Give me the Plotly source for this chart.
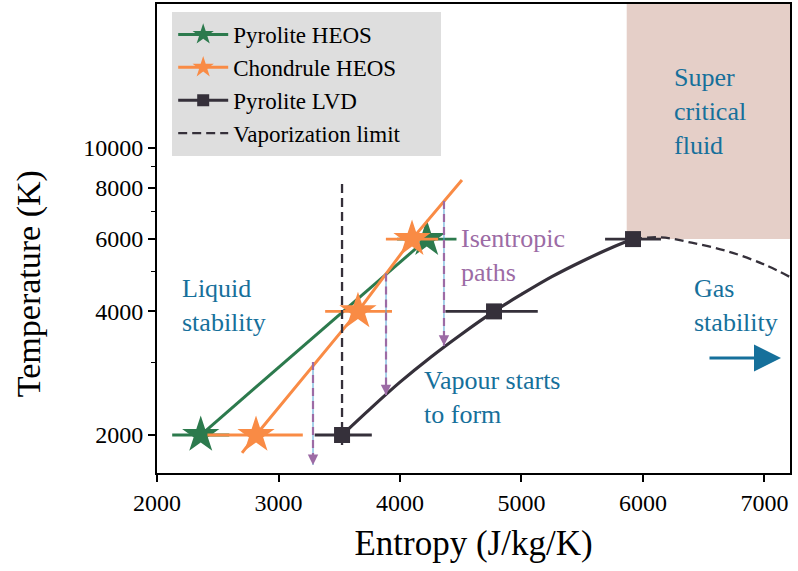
import plotly.graph_objects as go
import math

# ---- data ----
# Pyrolite HEOS
pyr_heos_S = [2360, 4220]
pyr_heos_T = [2000, 6000]
pyr_heos_err = [235, 245]

# Chondrule HEOS
chon_S = [2815, 3654, 4099]
chon_T = [2000, 4000, 6000]
chon_err_minus = [400, 270, 215]
chon_err_plus = [385, 280, 215]
chon_line_S = [2700, 2815, 3654, 4099, 4510]
chon_line_T = [1810, 2000, 4000, 6000, 8360]

# Pyrolite LVD
lvd_S = [3523, 4774, 5918]
lvd_T = [2000, 4000, 6000]
lvd_err_minus = [225, 400, 230]
lvd_err_plus = [245, 360, 230]
lvd_curve_S = [3523, 3750, 4000, 4250, 4500, 4774, 5000, 5250, 5500, 5750, 5918]
lvd_curve_T = [2000, 2310, 2690, 3090, 3510, 4000, 4400, 4860, 5300, 5730, 6000]
lvd_dash_S = [5918, 6150, 6400, 6700, 7000, 7210]
lvd_dash_T = [6000, 6060, 5880, 5600, 5200, 4850]

# Vaporization limit
vap_S = [3523, 3523]
vap_T = [1890, 8300]

# Isentropic paths (start on melt curve, end where vapour starts)
path_S = [3284, 3885, 4362]
path_T_top = [3010, 4950, 7430]
path_T_bot = [1691, 2502, 3300]

# Supercritical region
super_S0 = 5866
super_T0 = 6000

# Gas-stability arrow
gas_arrow_S = [6535, 7136]
gas_arrow_T = 3080

x_range = [2000, 7210]
y_range_log = [3.2085, 4.3507]
x_ticks = [2000, 3000, 4000, 5000, 6000, 7000]
y_ticks = [2000, 4000, 6000, 8000, 10000]
y_minor = [3000, 5000, 7000, 9000]

GREEN = "#2C7A4D"
ORANGE = "#F98B45"
DARK = "#35303A"
PURPLE = "#9C6BA5"
LIGHTBLUE = "#4FA3D3"
TXTBLUE = "#16709B"
SHADE = "#E5CFC8"
FONT = "Liberation Serif"

fig = go.Figure()

# supercritical shading
fig.add_shape(type="rect", xref="x", yref="y", x0=super_S0, x1=x_range[1],
              y0=super_T0, y1=10 ** y_range_log[1], fillcolor=SHADE,
              line=dict(width=0), layer="below")

# Pyrolite HEOS
fig.add_trace(go.Scatter(x=pyr_heos_S, y=pyr_heos_T, mode="lines",
                         line=dict(color=GREEN, width=3), showlegend=False))
fig.add_trace(go.Scatter(x=pyr_heos_S, y=pyr_heos_T, mode="markers",
                         marker=dict(symbol="star", size=28, color=GREEN),
                         error_x=dict(type="data", array=pyr_heos_err, color=GREEN,
                                      thickness=2.8, width=0),
                         showlegend=False))

# Chondrule HEOS
fig.add_trace(go.Scatter(x=chon_line_S, y=chon_line_T, mode="lines",
                         line=dict(color=ORANGE, width=3), showlegend=False))
fig.add_trace(go.Scatter(x=chon_S, y=chon_T, mode="markers",
                         marker=dict(symbol="star", size=28, color=ORANGE),
                         error_x=dict(type="data", array=chon_err_plus,
                                      arrayminus=chon_err_minus, color=ORANGE,
                                      thickness=2.8, width=0),
                         showlegend=False))

# Vaporization limit
fig.add_trace(go.Scatter(x=vap_S, y=vap_T, mode="lines",
                         line=dict(color=DARK, width=2.3, dash="9px,5px"),
                         showlegend=False))

# Pyrolite LVD
fig.add_trace(go.Scatter(x=lvd_curve_S, y=lvd_curve_T, mode="lines",
                         line=dict(color=DARK, width=3.2, shape="spline"),
                         showlegend=False))
fig.add_trace(go.Scatter(x=lvd_dash_S, y=lvd_dash_T, mode="lines",
                         line=dict(color=DARK, width=2.3, dash="9px,5px", shape="spline"),
                         showlegend=False))
fig.add_trace(go.Scatter(x=lvd_S, y=lvd_T, mode="markers",
                         marker=dict(symbol="square", size=16, color=DARK),
                         error_x=dict(type="data", array=lvd_err_plus,
                                      arrayminus=lvd_err_minus, color=DARK,
                                      thickness=2.8, width=0),
                         showlegend=False))

# Isentropic paths
for s, t0, t1 in zip(path_S, path_T_top, path_T_bot):
    fig.add_trace(go.Scatter(x=[s, s], y=[t0, t1], mode="lines",
                             line=dict(color=LIGHTBLUE, width=1), showlegend=False))
    fig.add_trace(go.Scatter(x=[s, s], y=[t0, t1], mode="lines",
                             line=dict(color=PURPLE, width=2.2, dash="8px,5px"),
                             showlegend=False))
    fig.add_annotation(x=s, y=math.log10(t1), xref="x", yref="y", ax=0, ay=-13,
                       showarrow=True, arrowhead=2, arrowsize=1.3, arrowwidth=1.6,
                       arrowcolor=PURPLE, text="")

# legend entries
NB = "\u00a0"
legend_items = [
    ("Pyrolite HEOS", GREEN, "star", 16),
    ("Chondrule HEOS", ORANGE, "star", 16),
    ("Pyrolite LVD", DARK, "square", 12),
]
for i, (name, col, sym, sz) in enumerate(legend_items):
    fig.add_trace(go.Scatter(x=[None], y=[None], mode="lines+markers", name=name,
                             line=dict(color=col, width=3),
                             marker=dict(symbol=sym, size=sz, color=col)))
fig.add_trace(go.Scatter(x=[None], y=[None], mode="lines",
                         name="Vaporization limit" + NB * 6,
                         line=dict(color=DARK, width=2.3, dash="9px,5px")))

# text annotations
def label(text, s, t, color=TXTBLUE):
    fig.add_annotation(x=s, y=math.log10(t), xref="x", yref="y", text=text,
                       showarrow=False, xanchor="left", yanchor="middle", align="left",
                       xshift=-3,
                       font=dict(family=FONT, size=26, color=color))

label("Super<br>critical<br>fluid", 6263, 12300)
label("Isentropic<br>paths", 4510, 5488, PURPLE)
label("Liquid<br>stability", 2214, 4146)
label("Gas<br>stability", 6428, 4146)
label("Vapour starts<br>to form", 4206, 2475)

# gas arrow
fig.add_annotation(x=gas_arrow_S[1], y=math.log10(gas_arrow_T), xref="x", yref="y",
                   ax=gas_arrow_S[0], ay=math.log10(gas_arrow_T), axref="x", ayref="y",
                   showarrow=True, arrowhead=2, arrowsize=1.8, arrowwidth=3,
                   arrowcolor=TXTBLUE, text="")

# y-axis title (placed as in the reference, slightly below the axis centre)
fig.add_annotation(x=-0.202, y=0.403, xref="paper", yref="paper",
                   text="Temperature (K)", textangle=-90, showarrow=False,
                   xanchor="center", yanchor="middle",
                   font=dict(family=FONT, size=34, color="black"))

fig.update_layout(
    width=798, height=571,
    margin=dict(l=157, r=8, t=4, b=98, autoexpand=False),
    paper_bgcolor="white", plot_bgcolor="white",
    font=dict(family=FONT, size=24, color="black"),
    showlegend=True,
    legend=dict(x=0.024, y=0.983, xanchor="left", yanchor="top",
                bgcolor="#DEDEDE", bordercolor="#DEDEDE", borderwidth=1,
                font=dict(family=FONT, size=23, color="black"),
                itemwidth=50, traceorder="normal"),
)
fig.update_xaxes(range=x_range, tickvals=x_ticks, ticks="outside", ticklen=7,
                 tickwidth=1.5, tickcolor="black", showline=True, linecolor="black",
                 linewidth=1.8, mirror=True, showgrid=False, zeroline=False,
                 automargin=False,
                 tickfont=dict(family=FONT, size=24),
                 title=dict(text="Entropy (J/kg/K)", font=dict(family=FONT, size=35),
                            standoff=16))
fig.update_yaxes(type="log", range=y_range_log, tickvals=y_ticks,
                 ticktext=[str(v) for v in y_ticks], ticks="outside", ticklen=7,
                 tickwidth=1.5, tickcolor="black", showline=True, linecolor="black",
                 linewidth=1.8, mirror=True, showgrid=False, zeroline=False,
                 automargin=False,
                 tickfont=dict(family=FONT, size=24),
                 minor=dict(tickvals=y_minor, ticks="outside", ticklen=4,
                            tickwidth=1.2, tickcolor="black", showgrid=False))

fig.write_html("out.html", config={"displayModeBar": False},
               post_script="document.body.style.margin='0';document.body.style.padding='0';")
